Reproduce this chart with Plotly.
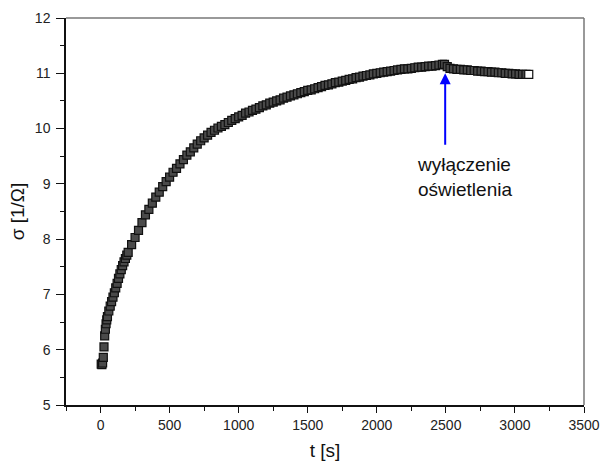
import plotly.graph_objects as go

t_s = [5, 10, 15, 20, 25, 30, 35, 40, 45, 50, 60, 70, 80, 90, 100, 110, 120, 130, 140, 150,
       160, 170, 180, 190, 200, 225, 250, 275, 300, 325, 350, 375, 400, 425, 450, 475, 500,
       525, 550, 575, 600, 625, 650, 675, 700, 725, 750, 775, 800, 825, 850, 875, 900, 925,
       950, 975, 1000, 1025, 1050, 1075, 1100, 1125, 1150, 1175, 1200, 1225, 1250, 1275, 1300,
       1325, 1350, 1375, 1400, 1425, 1450, 1475, 1500, 1525, 1550, 1575, 1600, 1625, 1650,
       1675, 1700, 1725, 1750, 1775, 1800, 1825, 1850, 1875, 1900, 1925, 1950, 1975, 2000,
       2025, 2050, 2075, 2100, 2125, 2150, 2175, 2200, 2225, 2250, 2275, 2300, 2325, 2350,
       2375, 2400, 2425, 2450, 2475, 2490,
       2510, 2530, 2555, 2580, 2605, 2630, 2655, 2680, 2705, 2730, 2755, 2780, 2805, 2830,
       2855, 2880, 2905, 2930, 2955, 2980, 3005, 3030, 3055, 3080, 3100]
sigma = [5.74, 5.73, 5.76, 5.86, 6.05, 6.25, 6.37, 6.47, 6.54, 6.60, 6.70, 6.79, 6.87, 6.95,
         7.03, 7.12, 7.20, 7.29, 7.37, 7.45, 7.52, 7.59, 7.65, 7.71, 7.76, 7.90, 8.03, 8.16,
         8.30, 8.44, 8.54, 8.65, 8.76, 8.85, 8.95, 9.04, 9.12, 9.21, 9.28, 9.36, 9.44, 9.52,
         9.58, 9.65, 9.72, 9.78, 9.83, 9.88, 9.93, 9.97, 10.01, 10.04, 10.07, 10.11, 10.15,
         10.18, 10.21, 10.24, 10.28, 10.30, 10.33, 10.35, 10.38, 10.41, 10.43, 10.46, 10.48,
         10.50, 10.52, 10.55, 10.57, 10.59, 10.61, 10.63, 10.65, 10.67, 10.69, 10.70, 10.72,
         10.74, 10.76, 10.78, 10.79, 10.81, 10.83, 10.84, 10.86, 10.87, 10.89, 10.90, 10.92,
         10.93, 10.95, 10.96, 10.97, 10.99, 11.00, 11.01, 11.02, 11.03, 11.04, 11.05, 11.06,
         11.07, 11.08, 11.08, 11.09, 11.10, 11.11, 11.11, 11.12, 11.13, 11.13, 11.14, 11.15,
         11.16, 11.16,
         11.12, 11.09, 11.08, 11.07, 11.07, 11.06, 11.06, 11.05, 11.05, 11.04, 11.04, 11.03,
         11.03, 11.02, 11.02, 11.01, 11.01, 11.00, 11.00, 10.99, 10.99, 10.98, 10.98, 10.98,
         10.98]

x_ticks = [0, 500, 1000, 1500, 2000, 2500, 3000, 3500]
y_ticks = [5, 6, 7, 8, 9, 10, 11, 12]

annot_text = "wyłączenie<br>oświetlenia"
arrow_t = 2495
arrow_from = 9.68
arrow_to = 11.0
text_t = 2635
text_s = 9.12

fill_colors = ["#4a4a4a"] * (len(t_s) - 1) + ["white"]

FONT = "Liberation Sans, Arial, sans-serif"

fig = go.Figure()
fig.add_trace(go.Scatter(
    x=t_s, y=sigma, mode="markers",
    marker=dict(symbol="square", size=8, color=fill_colors,
                line=dict(color="#111111", width=1.2)),
    showlegend=False, hoverinfo="skip"))

fig.add_annotation(x=arrow_t, y=arrow_to, ax=arrow_t, ay=arrow_from,
                   xref="x", yref="y", axref="x", ayref="y",
                   showarrow=True, arrowhead=2, arrowsize=1.1, arrowwidth=2,
                   arrowcolor="#0000ff", text="")
fig.add_annotation(x=text_t, y=text_s, xref="x", yref="y", text=annot_text,
                   showarrow=False, align="left", xanchor="center", yanchor="middle",
                   font=dict(size=19, color="#111111", family=FONT))

axis_common = dict(showgrid=False, zeroline=False, ticks="outside", automargin=False,
                   tickwidth=1.3, tickcolor="#111111", linecolor="#111111", linewidth=1.5,
                   showline=True, mirror=False,
                   tickfont=dict(size=14, color="#222222", family=FONT))

fig.update_xaxes(range=[-250, 3500], tickvals=x_ticks, ticklen=6, ticklabelstandoff=0,
                 minor=dict(dtick=250, ticks="outside", ticklen=4, tickcolor="#111111"),
                 title=dict(text="t [s]", font=dict(size=19, color="#111111", family=FONT),
                            standoff=29),
                 **axis_common)
fig.update_yaxes(range=[5, 12], tickvals=y_ticks, ticklen=8, ticklabelstandoff=3,
                 minor=dict(dtick=0.5, ticks="outside", ticklen=4, tickcolor="#111111"),
                 title=dict(text="σ [1/Ω]", font=dict(size=19, color="#111111", family=FONT),
                            standoff=5),
                 **axis_common)

# top & right frame
fig.add_shape(type="line", xref="paper", yref="paper", x0=0, x1=1, y0=1, y1=1,
              line=dict(color="#777777", width=1.5))
fig.add_shape(type="line", xref="paper", yref="paper", x0=1, x1=1, y0=0, y1=1,
              line=dict(color="#777777", width=1.5))

fig.update_layout(width=603, height=461, plot_bgcolor="white", paper_bgcolor="white",
                  margin=dict(l=66, r=19, t=18, b=56),
                  font=dict(family=FONT))

fig.write_html("out.html")
